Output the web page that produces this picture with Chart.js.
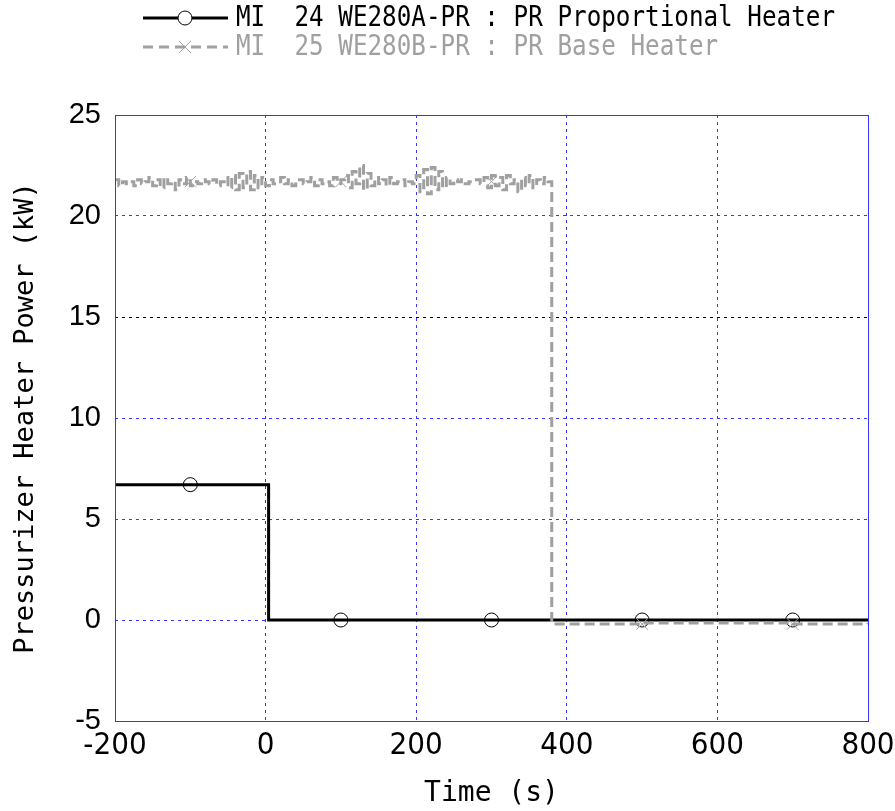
<!DOCTYPE html>
<html>
<head>
<meta charset="utf-8">
<script src="https://cdn.jsdelivr.net/npm/chart.js@4.4.0/dist/chart.umd.min.js"></script>
<style>
    html, body { margin: 0; padding: 0; background: white; }
    #wrap { width: 895px; height: 811px; }
</style>
</head>
<body>
<div id="wrap"><canvas id="chart" width="895" height="811"></canvas></div>
<script>
// PR proportional heater (MI 24)
const propTime = [-200, 4, 4, 800];
const propValue = [6.7, 6.7, 0, 0];

// PR base heater (MI 25): noisy part sampled every 5 s from -200 s to 380 s
const baseStart = -200;
const baseStep = 5;
const baseNoisy = [
    21.8, 21.5, 21.7, 21.6, 21.7, 21.5, 21.8, 21.6, 21.7, 21.9, 21.5,
    21.8, 21.4, 21.9, 21.6, 21.7, 21.3, 21.8, 21.6, 21.9, 21.5,
    21.7, 21.6, 21.8, 21.7, 21.6, 21.8, 21.5, 21.7, 21.9, 21.4,
    22.0, 21.3, 22.1, 21.4, 22.2, 21.3, 22.0, 21.4, 21.9, 21.5,
    21.8, 21.6, 21.7, 21.9, 21.6, 21.8, 21.5, 21.7, 21.8, 21.6,
    21.7, 21.9, 21.5, 21.8, 21.6, 21.7, 21.5, 21.9, 21.6, 21.8,
    22.0, 21.4, 22.2, 21.6, 22.5, 21.3, 22.1, 21.5, 21.9, 21.6,
    21.8, 21.5, 21.9, 21.6, 21.7, 21.8, 21.5, 21.7, 21.6, 22.0,
    21.2, 22.3, 21.1, 22.4, 21.3, 22.2, 21.4, 21.9, 21.6, 21.8,
    21.7, 21.8, 21.6, 21.7, 21.7, 21.8, 21.6, 21.9, 21.4, 22.0,
    21.5, 21.9, 21.3, 22.0, 21.6, 21.8, 21.2, 21.9, 21.5, 22.0,
    21.4, 21.8, 21.6, 21.9, 21.7, 21.5
];
const baseTailTime = [380, 500, 700, 800];
const baseTailValue = [-0.2, -0.15, -0.2, -0.15];

// marker positions
const markerTime = [-100, 100, 300, 500, 700];
const propMarker = [6.7, 0, 0, 0, 0];
const baseMarker = [21.7, 21.7, 21.7, -0.2, -0.2];

// axes
const xTicks = [-200, 0, 200, 400, 600, 800];
const yTicks = [-5, 0, 5, 10, 15, 20, 25];

const legendLabels = [
    "MI  24 WE280A-PR : PR Proportional Heater",
    "MI  25 WE280B-PR : PR Base Heater",
];

const BLUE = "#3535ff";
const GRAY = "#a0a0a0";
const MONO = "'DejaVu Sans Mono', 'Liberation Mono', monospace";
const NARROW = "'Liberation Sans Narrow', 'DejaVu Sans Condensed', sans-serif";

const baseData = baseNoisy.map((v, i) => ({ x: baseStart + i * baseStep, y: v }));
baseTailTime.forEach((t, i) => baseData.push({ x: t, y: baseTailValue[i] }));

const frameAndLegend = {
    id: "frameAndLegend",
    afterDraw(chart) {
        const ctx = chart.ctx;
        const a = chart.chartArea;
        ctx.save();
        ctx.strokeStyle = BLUE;
        ctx.lineWidth = 1;
        ctx.setLineDash([]);
        ctx.strokeRect(Math.round(a.left) + 0.5, Math.round(a.top) + 0.5,
            Math.round(a.right - a.left), Math.round(a.bottom - a.top));

        const rows = [
            { y: 18, color: "black", dash: [], marker: "circle", text: legendLabels[0] },
            { y: 47, color: GRAY, dash: [10, 6], marker: "cross", text: legendLabels[1] },
        ];
        ctx.font = "28px " + MONO;
        const squeeze = (835 - 236) / ctx.measureText(legendLabels[0]).width;
        rows.forEach(r => {
            ctx.strokeStyle = r.color;
            ctx.lineWidth = 3;
            ctx.setLineDash(r.dash);
            ctx.beginPath();
            ctx.moveTo(143, r.y);
            ctx.lineTo(228, r.y);
            ctx.stroke();
            ctx.setLineDash([]);
            ctx.lineWidth = 1;
            if (r.marker === "circle") {
                ctx.fillStyle = "white";
                ctx.beginPath();
                ctx.arc(185, r.y, 7, 0, Math.PI * 2);
                ctx.fill();
                ctx.strokeStyle = "black";
                ctx.stroke();
            } else {
                ctx.beginPath();
                ctx.moveTo(179, r.y - 6); ctx.lineTo(191, r.y + 6);
                ctx.moveTo(191, r.y - 6); ctx.lineTo(179, r.y + 6);
                ctx.stroke();
            }
            ctx.save();
            ctx.translate(236, r.y + 1);
            ctx.scale(squeeze, 1);
            ctx.fillStyle = r.color;
            ctx.textBaseline = "middle";
            ctx.textAlign = "left";
            ctx.fillText(r.text, 0, 0);
            ctx.restore();
        });
        ctx.restore();
    },
};

new Chart(document.getElementById("chart").getContext("2d"), {
    type: "line",
    data: {
        datasets: [
            {
                label: legendLabels[1],
                data: baseData,
                borderColor: GRAY,
                borderWidth: 3,
                borderDash: [10, 5],
                pointRadius: 0,
                stepped: true,
            },
            {
                label: legendLabels[1] + " markers",
                data: markerTime.map((t, i) => ({ x: t, y: baseMarker[i] })),
                showLine: false,
                pointStyle: "crossRot",
                pointRadius: 8,
                borderColor: GRAY,
                borderWidth: 1,
            },
            {
                label: legendLabels[0],
                data: propTime.map((t, i) => ({ x: t, y: propValue[i] })),
                borderColor: "black",
                borderWidth: 3,
                pointRadius: 0,
                tension: 0,
            },
            {
                label: legendLabels[0] + " markers",
                data: markerTime.map((t, i) => ({ x: t, y: propMarker[i] })),
                showLine: false,
                pointStyle: "circle",
                pointRadius: 7,
                borderColor: "black",
                backgroundColor: "rgba(0,0,0,0)",
                borderWidth: 1,
            },
        ],
    },
    options: {
        responsive: false,
        animation: false,
        layout: { padding: { top: 115, right: 27, left: 0, bottom: 0 } },
        plugins: {
            legend: { display: false },
            tooltip: { enabled: false },
        },
        scales: {
            x: {
                type: "linear",
                min: -200,
                max: 800,
                afterBuildTicks: s => { s.ticks = xTicks.map(v => ({ value: v })); },
                afterFit: s => { s.height = 90; s.paddingRight = 0; s.paddingLeft = 0; },
                ticks: {
                    color: "black",
                    font: { family: NARROW, size: 31 },
                    padding: 6,
                    maxRotation: 0,
                },
                grid: {
                    color: BLUE,
                    lineWidth: 1,
                    drawTicks: false,
                },
                border: { display: false, dash: [3, 4] },
                title: {
                    display: true,
                    text: "Time (s)",
                    color: "black",
                    font: { family: MONO, size: 28 },
                    padding: { top: 6, bottom: 0 },
                },
            },
            y: {
                min: -5,
                max: 25,
                afterBuildTicks: s => { s.ticks = yTicks.map(v => ({ value: v })); },
                afterFit: s => { s.width = 115; },
                ticks: {
                    color: "black",
                    font: { family: "'Liberation Sans', Arial, sans-serif", size: 29 },
                    padding: 14,
                },
                grid: {
                    color: yTicks.map(v => (v === 15 ? "black" : BLUE)),
                    lineWidth: 1,
                    drawTicks: false,
                },
                border: { display: false, dash: [3, 4] },
                title: {
                    display: true,
                    text: "Pressurizer Heater Power (kW)",
                    color: "black",
                    font: { family: MONO, size: 27 },
                    padding: { top: 10, bottom: 0 },
                },
            },
        },
    },
    plugins: [frameAndLegend],
});
</script>
</body>
</html>
